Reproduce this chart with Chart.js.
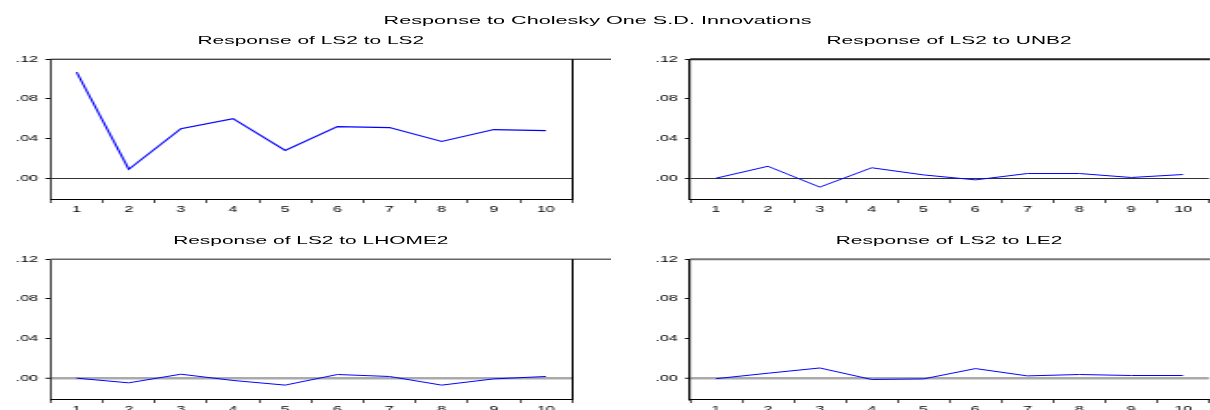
<!DOCTYPE html>
<html lang="en">
<head>
  <meta charset="UTF-8" />
  <title>Response to Cholesky One S.D. Innovations</title>
  <script src="https://cdn.jsdelivr.net/npm/chart.js"></script>
  <style>
    body { margin: 0; background: #fff; overflow: hidden; width: 1210px; height: 410px; }
    /* the original graph is stretched sideways, so the whole stage is too */
    #stage { position: absolute; left: 0; top: 0; width: 654px; height: 410px;
             transform: scaleX(1.85); transform-origin: 0 0;
             font-family: "Liberation Sans", Arial, sans-serif; color: #000; }
    .titre { position: absolute; white-space: nowrap; transform: translateX(-50%); }
    .main { font-size: 11.7px; top: 13px; left: 323px; }
    .sub { font-size: 11.3px; }
    .panel { position: absolute; }
  </style>
</head>
<body>
  <div id="stage">
    <div class="titre main">Response to Cholesky One S.D. Innovations</div>
    <div class="titre sub" style="left:168px; top:34px">Response of LS2 to LS2</div>
    <div class="titre sub" style="left:513px; top:34px">Response of LS2 to UNB2</div>
    <div class="titre sub" style="left:168px; top:234px">Response of LS2 to LHOME2</div>
    <div class="titre sub" style="left:513px; top:234px">Response of LS2 to LE2</div>

    <div class="panel" style="left:0; top:50px; width:330px; height:170px"><canvas id="g1"></canvas></div>
    <div class="panel" style="left:345px; top:50px; width:309px; height:170px"><canvas id="g2"></canvas></div>
    <div class="panel" style="left:0; top:250px; width:330px; height:160px"><canvas id="g3"></canvas></div>
    <div class="panel" style="left:345px; top:250px; width:309px; height:160px"><canvas id="g4"></canvas></div>
  </div>

  <script>
    const periods = ['1', '2', '3', '4', '5', '6', '7', '8', '9', '10'];
    const yTicks = [0, 0.04, 0.08, 0.12];

    const toLS2 = [0.107, 0.009, 0.050, 0.060, 0.028, 0.052, 0.051, 0.037, 0.049, 0.048];
    const toUNB2 = [0.000, 0.012, -0.009, 0.0105, 0.0033, -0.0017, 0.0047, 0.0047, 0.0007, 0.0037];
    const toLHOME2 = [0.000, -0.0047, 0.004, -0.0023, -0.007, 0.0037, 0.0017, -0.007, -0.0007, 0.0017];
    const toLE2 = [-0.0005, 0.005, 0.0103, -0.0013, -0.0007, 0.0097, 0.0023, 0.0037, 0.0027, 0.0027];

    // top and right edge of the box
    const cadre = {
      id: 'cadre',
      afterDraw(chart, args, opts) {
        const a = chart.chartArea;
        const ctx = chart.ctx;
        ctx.save();
        ctx.strokeStyle = opts.topColor;
        ctx.lineWidth = opts.topWidth;
        ctx.beginPath();
        ctx.moveTo(a.left, a.top);
        ctx.lineTo(chart.width, a.top);
        ctx.stroke();
        if (opts.right) {
          const xr = Math.round(a.right) + 0.5;
          ctx.strokeStyle = '#000';
          ctx.lineWidth = 1;
          ctx.beginPath();
          ctx.moveTo(xr, a.top);
          ctx.lineTo(xr, a.bottom);
          ctx.stroke();
        }
        ctx.restore();
      }
    };

    function graphique(id, valeurs, s) {
      return new Chart(document.getElementById(id), {
        type: 'line',
        data: {
          labels: periods,
          datasets: [{
            data: valeurs,
            borderColor: '#0000ff',
            borderWidth: s.lineWidth,
            pointRadius: 0,
            tension: 0,
            fill: false
          }]
        },
        plugins: [cadre],
        options: {
          responsive: true,
          maintainAspectRatio: false,
          animation: false,
          events: [],
          layout: { padding: { top: 7.3, right: s.padRight, left: 0, bottom: 0 } },
          plugins: {
            legend: { display: false },
            tooltip: { enabled: false },
            cadre: { topColor: s.topColor, topWidth: s.topWidth, right: s.right }
          },
          scales: {
            x: {
              type: 'category',
              offset: true,
              afterFit: sc => { sc.height = s.xHeight; },
              grid: { offset: true, drawOnChartArea: false, tickLength: 4, tickColor: '#000', tickWidth: 0.7 },
              border: { color: '#000', width: 1 },
              ticks: { color: '#000', font: { family: 'Liberation Sans', size: 8.7 }, padding: 1,
                       maxRotation: 0, autoSkip: false }
            },
            y: {
              min: -0.021,
              max: 0.12,
              afterFit: sc => { sc.width = s.yWidth; },
              afterBuildTicks: sc => { sc.ticks = yTicks.map(v => ({ value: v })); },
              grid: {
                color: c => (c.tick && c.tick.value === 0) ? s.zeroColor : 'rgba(0,0,0,0)',
                lineWidth: c => (c.tick && c.tick.value === 0) ? s.zeroWidth : 1,
                tickColor: '#000', tickLength: 2.7, tickWidth: 1
              },
              border: { color: '#000', width: s.axisWidth },
              ticks: {
                color: '#000', padding: 4,
                font: { family: 'Liberation Sans', size: 8.7 },
                callback: v => v.toFixed(2).replace(/^-?0/, '')
              }
            }
          }
        }
      });
    }

    graphique('g1', toLS2, { padRight: 20.8, yWidth: 27.3, xHeight: 21, lineWidth: 1.1,
      zeroColor: '#333', zeroWidth: 1, axisWidth: 0.8, topColor: '#000', topWidth: 1, right: true });
    graphique('g2', toUNB2, { padRight: 0, yWidth: 28, xHeight: 21, lineWidth: 1,
      zeroColor: '#333', zeroWidth: 1, axisWidth: 1.2, topColor: '#222', topWidth: 2, right: false });
    graphique('g3', toLHOME2, { padRight: 20.8, yWidth: 27.3, xHeight: 11, lineWidth: 1,
      zeroColor: '#aaa', zeroWidth: 2.5, axisWidth: 0.8, topColor: '#666', topWidth: 1.5, right: true });
    graphique('g4', toLE2, { padRight: 0, yWidth: 28, xHeight: 11, lineWidth: 1,
      zeroColor: '#aaa', zeroWidth: 2.5, axisWidth: 1.2, topColor: '#777', topWidth: 2, right: false });
  </script>
</body>
</html>
